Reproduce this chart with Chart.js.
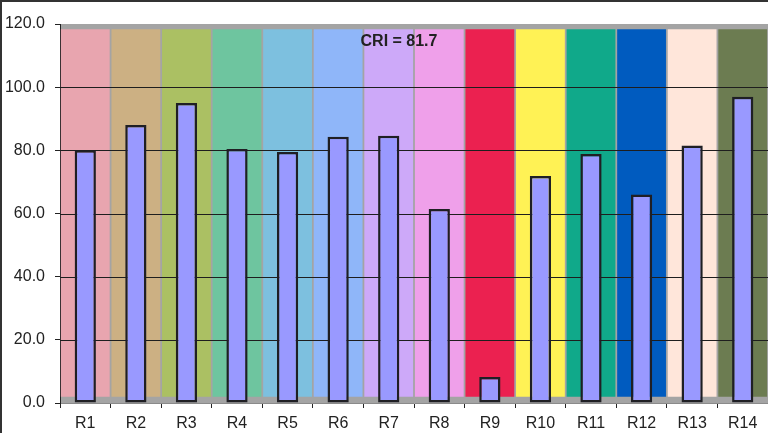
<!DOCTYPE html>
<html>
<head>
<meta charset="utf-8">
<script src="https://cdn.jsdelivr.net/npm/chart.js@4/dist/chart.umd.min.js"></script>
<style>
  html, body { margin: 0; padding: 0; background: #ffffff; }
  #wrap { width: 768px; height: 433px; position: relative; }
</style>
</head>
<body>
<div id="wrap"><canvas id="c" width="768" height="433"></canvas></div>
<script>
// ---- data ----
const categories = ['R1','R2','R3','R4','R5','R6','R7','R8','R9','R10','R11','R12','R13','R14'];
const riValues = [80.0, 88.0, 95.0, 80.4, 79.5, 84.3, 84.6, 61.4, 8.2, 71.9, 78.8, 66.0, 81.5, 97.0];
const swatchColors = ['#E8A5AF','#CCB083','#ABC063','#6EC59F','#7DC0DF','#8FB6F9','#CDA9F9','#EFA0EA',
                      '#EB2150','#FFF255','#10A98A','#005BBF','#FFE6DA','#6C7C51'];
const swatchLow = 2.0;
const swatchHigh = 118.3;
const yTicks = [0, 20, 40, 60, 80, 100, 120];
const criLabel = 'CRI = 81.7';

const FONT = "'Liberation Sans', Arial, Helvetica, sans-serif";
const TEXT = '#222222';

const decor = {
  id: 'decor',
  beforeDraw(chart) {
    const {ctx, chartArea: a} = chart;
    ctx.save();
    ctx.fillStyle = '#ffffff';
    ctx.fillRect(0, 0, chart.width, chart.height);
    ctx.fillStyle = '#A4A4A4';
    ctx.fillRect(a.left, a.top, a.right - a.left, a.bottom - a.top);
    ctx.restore();
  },
  afterDatasetDraw(chart, args) {
    if (args.index !== 0) return;
    const {ctx, chartArea: a} = chart;
    const y = chart.scales.y;
    ctx.save();
    ctx.strokeStyle = '#1e1e1e';
    ctx.lineWidth = 1;
    yTicks.forEach(v => {
      if (v <= 0 || v >= 120) return;
      const py = Math.round(y.getPixelForValue(v)) + 0.5;
      ctx.beginPath();
      ctx.moveTo(a.left, py);
      ctx.lineTo(a.right, py);
      ctx.stroke();
    });
    ctx.restore();
  },
  afterDraw(chart) {
    const {ctx} = chart;
    ctx.save();
    ctx.strokeStyle = '#333333';
    ctx.lineWidth = 2;
    ctx.beginPath();
    ctx.moveTo(1, chart.height + 5);
    ctx.lineTo(1, 1);
    ctx.lineTo(chart.width + 5, 1);
    ctx.stroke();
    ctx.fillStyle = TEXT;
    ctx.font = 'bold 16px ' + FONT;
    ctx.textAlign = 'center';
    ctx.textBaseline = 'middle';
    ctx.fillText(criLabel, 399, 42);
    ctx.restore();
  }
};

new Chart(document.getElementById('c'), {
  type: 'bar',
  data: {
    labels: categories,
    datasets: [
      {
        label: 'swatch',
        data: categories.map(() => [swatchLow, swatchHigh]),
        backgroundColor: swatchColors,
        borderWidth: 0,
        barPercentage: 0.965,
        categoryPercentage: 1.0,
        order: 2
      },
      {
        label: 'Ri',
        data: riValues,
        backgroundColor: '#9999FF',
        borderColor: '#1f1f24',
        borderWidth: 2.5,
        borderSkipped: false,
        barPercentage: 0.42,
        categoryPercentage: 1.0,
        order: 1
      }
    ]
  },
  options: {
    responsive: false,
    animation: false,
    devicePixelRatio: 1,
    layout: { padding: { top: 24, left: 0, right: 0, bottom: 0 } },
    plugins: {
      legend: { display: false },
      title: { display: false },
      tooltip: { enabled: false }
    },
    datasets: { bar: { grouped: false } },
    scales: {
      x: {
        offset: true,
        grid: { offset: true, drawOnChartArea: false, drawTicks: true, tickLength: 5, color: '#222222' },
        border: { display: true, color: '#8a8a8a', width: 1 },
        ticks: { color: TEXT, font: { family: FONT, size: 16 }, padding: 6, maxRotation: 0, autoSkip: false },
        afterFit(s) { s.height = 30; }
      },
      y: {
        min: 0,
        max: 120,
        afterBuildTicks(s) { s.ticks = yTicks.map(v => ({ value: v })); },
        grid: { drawOnChartArea: false, drawTicks: true, tickLength: 5, color: '#222222' },
        border: { display: true, color: '#222222', width: 1 },
        ticks: {
          color: TEXT,
          font: { family: FONT, size: 16 },
          padding: 10,
          callback: v => Number(v).toFixed(1)
        },
        afterFit(s) { s.width = 60; }
      }
    }
  },
  plugins: [decor]
});
</script>
</body>
</html>
